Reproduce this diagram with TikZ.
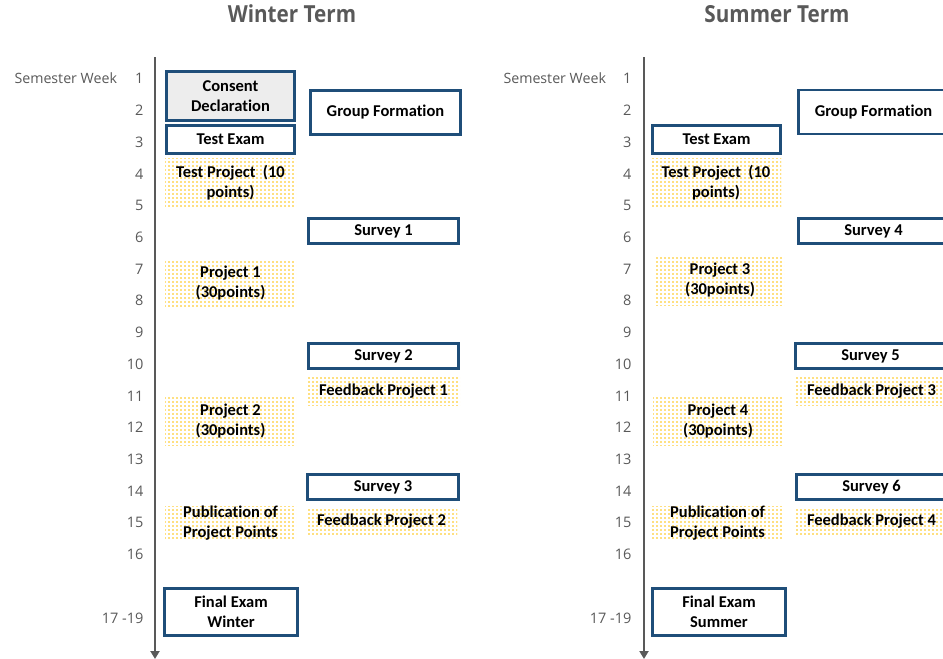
\documentclass[tikz,border=0pt]{standalone}
\usepackage{fontspec}
\setmainfont[Ligatures=NoCommon]{Carlito}
\newfontfamily\labelfont{Open Sans}
\newfontfamily\titlefont[FakeStretch=0.88]{Open Sans}
\usetikzlibrary{arrows.meta,patterns}
\pgfdeclarepatternformonly{bigdots}{\pgfqpoint{-1pt}{-1pt}}{\pgfqpoint{3pt}{3pt}}{\pgfqpoint{4pt}{4pt}}{%
  \pgfpathcircle{\pgfqpoint{1pt}{1pt}}{0.95pt}\pgfusepath{fill}}
\definecolor{boxblue}{RGB}{31,78,121}
\definecolor{axisgray}{RGB}{89,89,89}
\definecolor{dotyellow}{RGB}{255,192,0}
\definecolor{consentgray}{RGB}{237,237,237}
\tikzset{
  base/.style={align=center, inner sep=0pt, font=\fontsize{16.5}{19.5}\selectfont\bfseries, text=black},
  bbox/.style={base, draw=boxblue, line width=2.6pt, fill=white},
  graybox/.style={bbox, fill=consentgray},
  dotbox/.style={base, pattern=bigdots, pattern color=dotyellow},
  week/.style={anchor=east, font=\labelfont\fontsize{14.5}{16}\selectfont, text=axisgray},
  semlabel/.style={anchor=west, font=\labelfont\fontsize{14.2}{16}\selectfont, text=axisgray},
  termtitle/.style={font=\titlefont\fontsize{23.5}{26}\selectfont\bfseries, text=axisgray},
  axis/.style={draw=axisgray, line width=2.6pt, -{Triangle[length=8pt,width=9pt]}},
  wh/.style 2 args={minimum width=#1pt, minimum height=#2pt}
}
\begin{document}
\begin{tikzpicture}[x=1pt,y=-1pt]
\useasboundingbox (0,0) rectangle (943,659);
\begin{scope}
\clip (0,0) rectangle (943,659);
% titles
\node[termtitle] (tw) at (292,14) {Winter Term};
\node[termtitle] (ts) at (777,14) {Summer Term};
% axes
\coordinate (wtop) at (155,57);
\coordinate (wbot) at (155,659);
\coordinate (stop) at (644,57);
\coordinate (sbot) at (644,659);
\draw[axis] (wtop) -- (wbot);
\draw[axis] (stop) -- (sbot);
% week labels
\node[semlabel] (wsem) at (11,78) {Semester Week};
\node[semlabel] (ssem) at (500,78) {Semester Week};
\foreach \n/\y in {1/78,2/110,3/142,4/174,5/205,6/237,7/269,8/300,9/332,10/364,11/396,12/427,13/459,14/491,15/522,16/554}{
  \node[week] (ww\n) at (147,\y) {\n};
  \node[week] (sw\n) at (635,\y) {\n};
}
\node[week] (ww17) at (147,618) {17 -19};
\node[week] (sw17) at (635,618) {17 -19};
% winter
\node[graybox, wh={128}{49}] (wcd) at (230.5,96) {Consent\\Declaration};
\node[bbox, wh={150}{44}] (wgf) at (385.5,112.5) {Group Formation};
\node[bbox, wh={128}{28}] (wte) at (230.5,139.5) {Test Exam};
\node[dotbox, wh={131}{49}] (wtp) at (230.5,182.5) {Test Project\ \ (10\\points)};
\node[bbox, wh={150}{25}] (ws1) at (383.5,231) {Survey 1};
\node[dotbox, wh={131}{48}] (wp1) at (230.5,283) {Project 1\\(30points)};
\node[bbox, wh={150}{25}] (ws2) at (383.5,356) {Survey 2};
\node[dotbox, wh={153}{28}] (wfb1) at (383.5,391) {Feedback Project 1};
\node[dotbox, wh={131}{48}] (wp2) at (230.5,421) {Project 2\\(30points)};
\node[bbox, wh={151}{25}] (ws3) at (383,487) {Survey 3};
\node[dotbox, wh={131}{34}] (wpub) at (230.5,523) {Publication of\\Project Points};
\node[dotbox, wh={151}{28}] (wfb2) at (381.5,521) {Feedback Project 2};
\node[bbox, wh={133}{47}] (wfe) at (231,612) {Final Exam\\Winter};
% summer
\node[bbox, wh={150}{44}] (sgf) at (873.5,112) {Group Formation};
\node[bbox, wh={128}{28}] (ste) at (716.5,139.5) {Test Exam};
\node[dotbox, wh={130}{49}] (stp) at (716,182.5) {Test Project\ \ (10\\points)};
\node[bbox, wh={150}{25}] (ss4) at (873.5,231) {Survey 4};
\node[dotbox, wh={128}{50}] (sp3) at (720,280) {Project 3\\(30points)};
\node[bbox, wh={150}{25}] (ss5) at (870.5,356) {Survey 5};
\node[dotbox, wh={153}{28}] (sfb3) at (871.5,391) {Feedback Project 3};
\node[dotbox, wh={130}{48}] (sp4) at (718,421) {Project 4\\(30points)};
\node[bbox, wh={150}{25}] (ss6) at (871.5,487) {Survey 6};
\node[dotbox, wh={131}{34}] (spub) at (717.5,523) {Publication of\\Project Points};
\node[dotbox, wh={153}{28}] (sfb4) at (871.5,521) {Feedback Project 4};
\node[bbox, wh={133}{47}] (sfe) at (719,612) {Final Exam\\Summer};
\end{scope}
\end{tikzpicture}
\end{document}
